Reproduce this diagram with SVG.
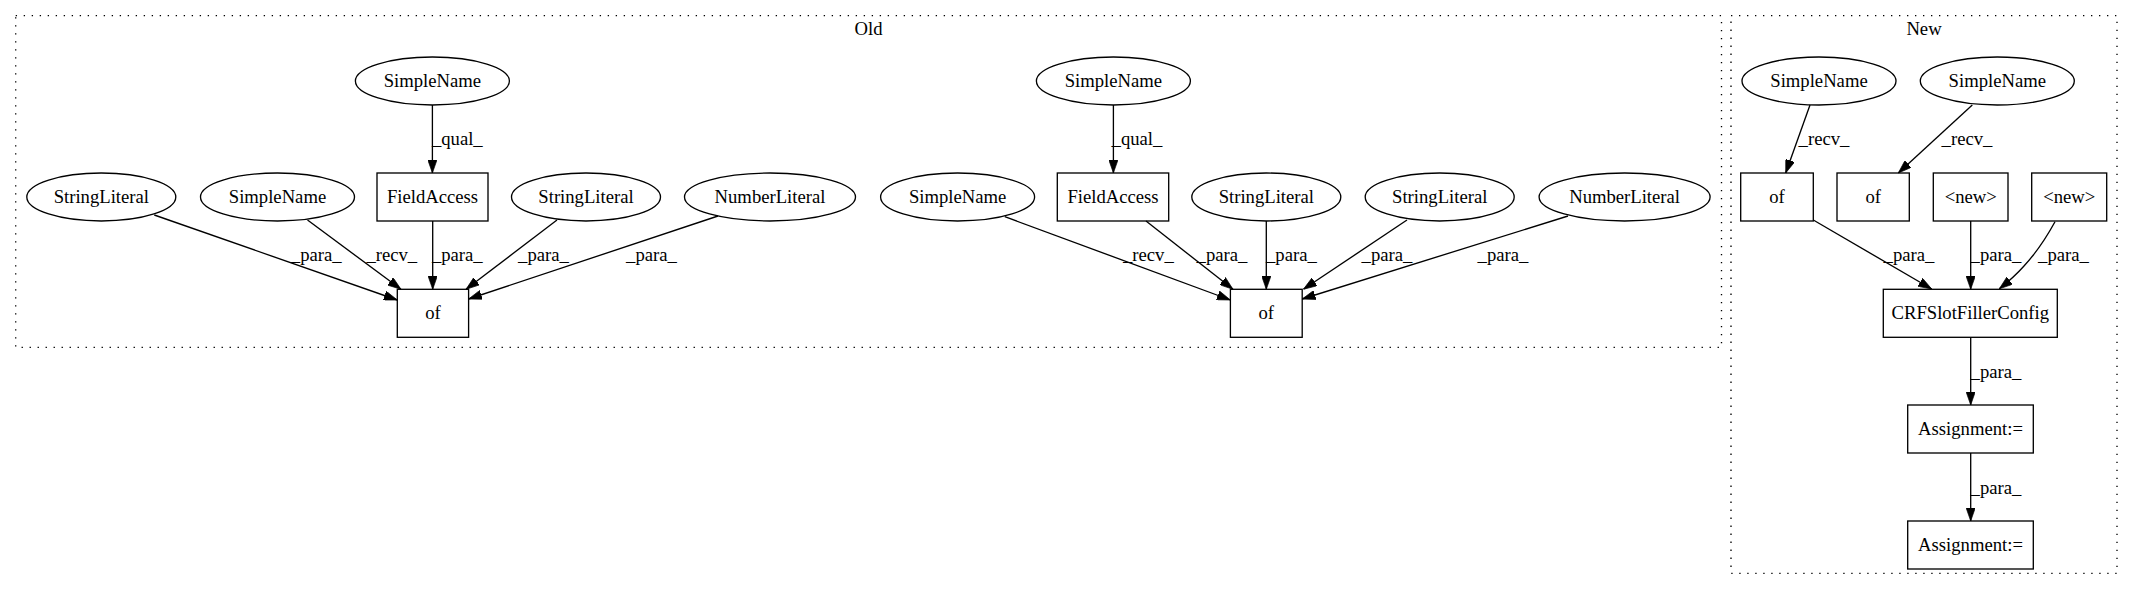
<svg xmlns="http://www.w3.org/2000/svg" width="2133" height="596" viewBox="0 0 2133 596">
<style>
text{font-family:"Liberation Serif","Times New Roman",serif;font-size:18.67px;fill:#000;text-anchor:middle}
.n{fill:none;stroke:#000;stroke-width:1.33}
.cl{fill:none;stroke:#000;stroke-width:1.33;stroke-dasharray:1.33,6.67}
.e{fill:none;stroke:#000;stroke-width:1.33;marker-end:url(#ah)}
</style>
<defs>
<marker id="ah" markerUnits="userSpaceOnUse" viewBox="0 0 10 7" markerWidth="13.3" markerHeight="9.3" refX="10" refY="3.5" orient="auto">
<path d="M0,0 L10,3.5 L0,7 z" fill="#000" stroke="#000" stroke-width="0.5"/>
</marker>
</defs>
<rect x="0" y="0" width="2133" height="596" fill="#fff"/>
<g id="cluster_old">
<rect class="cl" x="15.7" y="15.7" width="1705.8" height="331.6"/>
<text x="868.6" y="35">Old</text>
</g>
<g id="cluster_new">
<rect class="cl" x="1731" y="15.7" width="386" height="557.6"/>
<text x="1924" y="35">New</text>
</g>

<g id="old_sn_top"><ellipse class="n" cx="432.4" cy="81" rx="77" ry="24"/><text x="432.4" y="87">SimpleName</text></g>
<g id="old_fa"><rect class="n" x="377" y="173" width="111" height="48"/><text x="432.5" y="203">FieldAccess</text></g>
<g id="old_sl1"><ellipse class="n" cx="101.3" cy="197" rx="74.5" ry="24"/><text x="101.3" y="203">StringLiteral</text></g>
<g id="old_sn2"><ellipse class="n" cx="277.5" cy="197" rx="77" ry="24"/><text x="277.5" y="203">SimpleName</text></g>
<g id="old_sl2"><ellipse class="n" cx="586" cy="197" rx="74.5" ry="24"/><text x="586" y="203">StringLiteral</text></g>
<g id="old_nl"><ellipse class="n" cx="770" cy="197" rx="85.5" ry="24"/><text x="770" y="203">NumberLiteral</text></g>
<g id="old_of"><rect class="n" x="397.3" y="289.3" width="71.3" height="48"/><text x="433" y="319.3">of</text></g>

<g id="old2_sn_top"><ellipse class="n" cx="1113.4" cy="81" rx="77" ry="24"/><text x="1113.4" y="87">SimpleName</text></g>
<g id="old2_fa"><rect class="n" x="1057.3" y="173" width="111.4" height="48"/><text x="1113" y="203">FieldAccess</text></g>
<g id="old2_sn"><ellipse class="n" cx="957.6" cy="197" rx="77" ry="24"/><text x="957.6" y="203">SimpleName</text></g>
<g id="old2_sl1"><ellipse class="n" cx="1266.3" cy="197" rx="74.5" ry="24"/><text x="1266.3" y="203">StringLiteral</text></g>
<g id="old2_sl2"><ellipse class="n" cx="1439.7" cy="197" rx="74.5" ry="24"/><text x="1439.7" y="203">StringLiteral</text></g>
<g id="old2_nl"><ellipse class="n" cx="1624.6" cy="197" rx="85.5" ry="24"/><text x="1624.6" y="203">NumberLiteral</text></g>
<g id="old2_of"><rect class="n" x="1230.4" y="289.3" width="71.8" height="48"/><text x="1266.3" y="319.3">of</text></g>

<g id="new_sn1"><ellipse class="n" cx="1819" cy="81" rx="77" ry="24"/><text x="1819" y="87">SimpleName</text></g>
<g id="new_sn2"><ellipse class="n" cx="1997.3" cy="81" rx="77" ry="24"/><text x="1997.3" y="87">SimpleName</text></g>
<g id="new_of1"><rect class="n" x="1740.7" y="173" width="72.6" height="48"/><text x="1777" y="203">of</text></g>
<g id="new_of2"><rect class="n" x="1837" y="173" width="72.3" height="48"/><text x="1873.2" y="203">of</text></g>
<g id="new_new1"><rect class="n" x="1933.3" y="173" width="74.7" height="48"/><text x="1970.7" y="203">&lt;new&gt;</text></g>
<g id="new_new2"><rect class="n" x="2031.7" y="173" width="75" height="48"/><text x="2069.2" y="203">&lt;new&gt;</text></g>
<g id="new_crf"><rect class="n" x="1883.3" y="289.3" width="174" height="48"/><text x="1970.3" y="319.3">CRFSlotFillerConfig</text></g>
<g id="new_as1"><rect class="n" x="1907.7" y="405" width="125.6" height="48"/><text x="1970.5" y="435">Assignment:=</text></g>
<g id="new_as2"><rect class="n" x="1907.7" y="521" width="125.6" height="48"/><text x="1970.5" y="551">Assignment:=</text></g>

<g id="edges">
<path class="e" d="M432.4,105 L432.4,173"/>
<path class="e" d="M154.3,215 L397.3,300"/>
<path class="e" d="M307.5,220 L401,289.3"/>
<path class="e" d="M432.7,221 L432.7,289.3"/>
<path class="e" d="M557,220 L466,289.3"/>
<path class="e" d="M718,216 L468.6,299"/>
<text x="457.3" y="145">_qual_</text>
<text x="316.2" y="261">_para_</text>
<text x="391.8" y="261">_recv_</text>
<text x="457.3" y="261">_para_</text>
<text x="543.5" y="261">_para_</text>
<text x="651.5" y="261">_para_</text>

<path class="e" d="M1113.4,105 L1113.4,173"/>
<path class="e" d="M1004.8,216.7 L1230.4,300"/>
<path class="e" d="M1146,221 L1233,289.3"/>
<path class="e" d="M1266.3,221 L1266.3,289.3"/>
<path class="e" d="M1407,220 L1303.4,289.3"/>
<path class="e" d="M1568,216 L1302.2,299"/>
<text x="1137" y="145">_qual_</text>
<text x="1148.4" y="261">_recv_</text>
<text x="1222" y="261">_para_</text>
<text x="1291.4" y="261">_para_</text>
<text x="1387" y="261">_para_</text>
<text x="1503" y="261">_para_</text>

<path class="e" d="M1810,105 L1785.7,173"/>
<path class="e" d="M1972.3,105 L1898.3,173"/>
<path class="e" d="M1813.3,220 L1931.7,289"/>
<path class="e" d="M1970.7,221 L1970.7,289.3"/>
<path class="e" d="M2055,221.7 C2045,240 2036,253 2024,266 C2016,275 2008,282 1999.3,288.8"/>
<path class="e" d="M1970.7,337.3 L1970.7,405"/>
<path class="e" d="M1970.7,453 L1970.7,521"/>
<text x="1824" y="145">_recv_</text>
<text x="1967" y="145">_recv_</text>
<text x="1909" y="261">_para_</text>
<text x="1996" y="261">_para_</text>
<text x="2063.5" y="261">_para_</text>
<text x="1996" y="378">_para_</text>
<text x="1996" y="494">_para_</text>
</g>
</svg>
